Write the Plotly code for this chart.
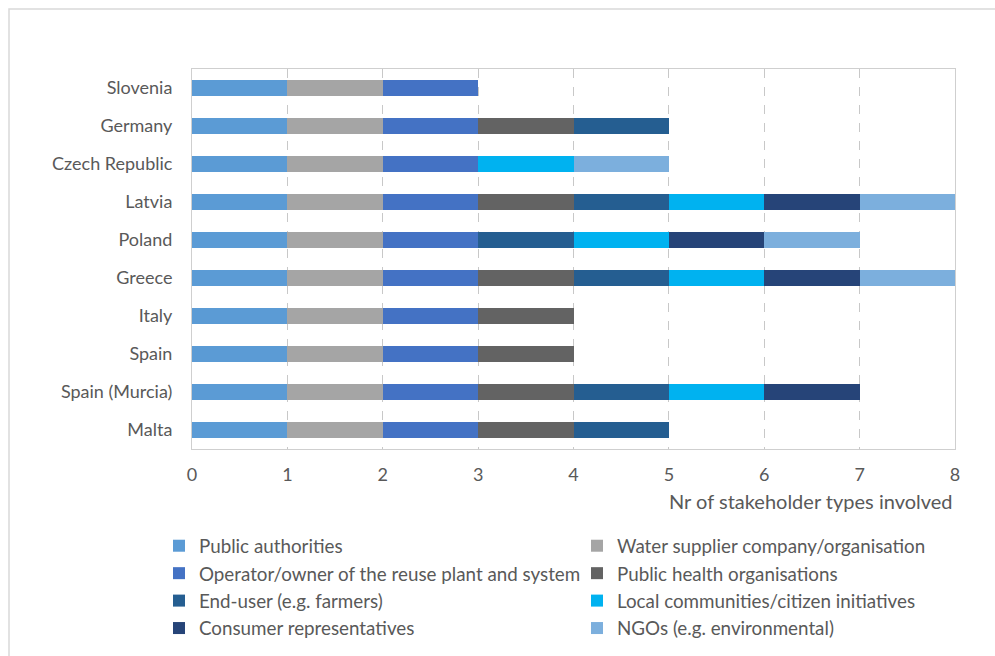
import plotly.graph_objects as go

# Countries, listed top to bottom
countries = ["Slovenia", "Germany", "Czech Republic", "Latvia", "Poland",
             "Greece", "Italy", "Spain", "Spain (Murcia)", "Malta"]

# Stakeholder types (stacking order)
stakeholders = [
    "Public authorities",
    "Water supplier company/organisation",
    "Operator/owner of the reuse plant and system",
    "Public health organisations",
    "End-user (e.g. farmers)",
    "Local communities/citizen initiatives",
    "Consumer representatives",
    "NGOs (e.g. environmental)",
]

# Involvement of each stakeholder type per country (1 = involved)
public_authorities = [1, 1, 1, 1, 1, 1, 1, 1, 1, 1]
water_supplier     = [1, 1, 1, 1, 1, 1, 1, 1, 1, 1]
operator_owner     = [1, 1, 1, 1, 1, 1, 1, 1, 1, 1]
public_health      = [0, 1, 0, 1, 0, 1, 1, 1, 1, 1]
end_user           = [0, 1, 0, 1, 1, 1, 0, 0, 1, 1]
local_communities  = [0, 0, 1, 1, 1, 1, 0, 0, 1, 0]
consumer_reps      = [0, 0, 0, 1, 1, 1, 0, 0, 1, 0]
ngos               = [0, 0, 1, 1, 1, 1, 0, 0, 0, 0]

series = [public_authorities, water_supplier, operator_owner, public_health,
          end_user, local_communities, consumer_reps, ngos]

colors = ["#5B9BD5", "#A5A5A5", "#4472C4", "#636363",
          "#255E91", "#00B2F0", "#264478", "#7CAFDD"]

# Left legend column holds even-indexed entries, right column odd-indexed
legend_ids = ["legend", "legend2"]

FONT = "Lato"
TXT = "#595959"

fig = go.Figure()
for i, (name, vals, col) in enumerate(zip(stakeholders, series, colors)):
    fig.add_trace(go.Bar(
        y=countries,
        x=[v if v else None for v in vals],
        name=name,
        orientation="h",
        marker=dict(color=col, line=dict(width=0)),
        legend=legend_ids[i % 2],
        legendgroup=name,
        hovertemplate="%{y}: " + name + "<extra></extra>",
    ))

W, H = 995, 656
L, R, T, B = 192, 40, 69, 207
pw, ph = W - L - R, H - T - B


def px_x(x):
    return (x - L) / pw


def px_y(y):
    return (H - B - y) / ph


legend_common = dict(
    orientation="v", yanchor="top", xanchor="left",
    font=dict(family=FONT, size=18.8, color=TXT),
    bgcolor="rgba(0,0,0,0)", traceorder="grouped", tracegroupgap=0,
    itemclick=False, itemdoubleclick=False,
)

fig.update_layout(
    width=W, height=H,
    margin=dict(l=L, r=R, t=T, b=B, autoexpand=False),
    paper_bgcolor="white", plot_bgcolor="white",
    barmode="stack", bargap=0.6,
    font=dict(family=FONT, size=18, color=TXT),
    showlegend=True,
    legend=dict(x=px_x(159), y=px_y(527), **legend_common),
    legend2=dict(x=px_x(577), y=px_y(527), **legend_common),
    xaxis=dict(
        range=[0, 8], dtick=1, tick0=0,
        showgrid=True, gridcolor="#C8C8C8", griddash="dash", gridwidth=1,
        zeroline=False,
        showline=True, linecolor="#CFCFCF", linewidth=1, mirror=True,
        ticks="", ticklabelstandoff=9,
        tickfont=dict(family=FONT, size=18, color=TXT),
    ),
    yaxis=dict(
        type="category", categoryorder="array", categoryarray=countries,
        range=[len(countries) - 0.5, -0.5],
        showgrid=False, zeroline=False,
        showline=True, linecolor="#CFCFCF", linewidth=1, mirror=True,
        ticks="", ticklabelstandoff=15,
        tickfont=dict(family=FONT, size=18, color=TXT),
    ),
    annotations=[dict(
        text="Nr of stakeholder types involved",
        xref="paper", yref="paper", x=1, y=0,
        xanchor="right", yanchor="top", yshift=-38,
        showarrow=False,
        font=dict(family=FONT, size=20, color=TXT),
    )],
    shapes=[dict(
        type="rect", xref="paper", yref="paper", layer="below",
        x0=px_x(9), y0=px_y(700), x1=px_x(1040), y1=px_y(9),
        line=dict(color="#D9D9D9", width=1.5), fillcolor="rgba(0,0,0,0)",
    )],
)

fig.write_html("out.html")
